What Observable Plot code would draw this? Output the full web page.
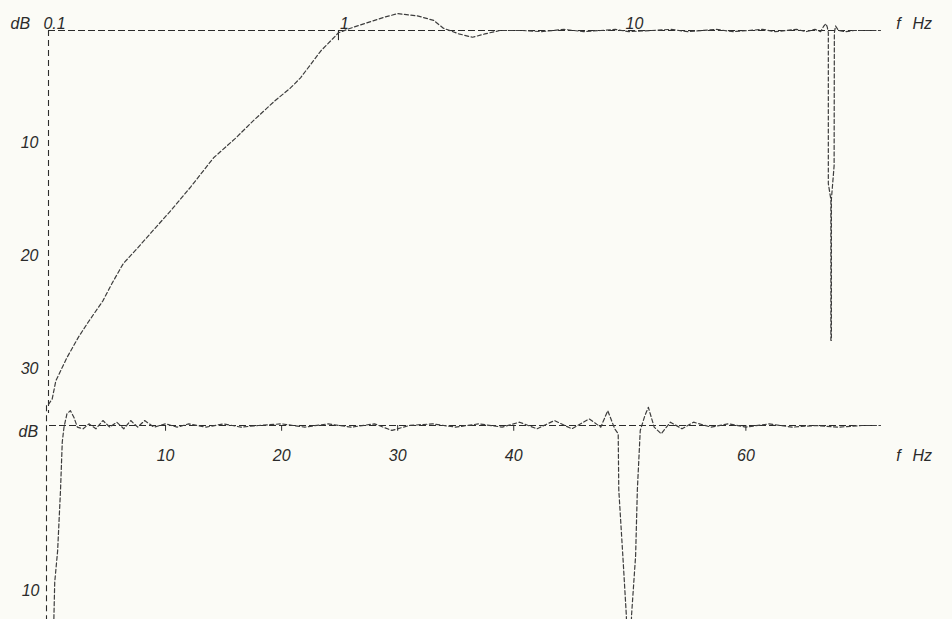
<!DOCTYPE html>
<html><head><meta charset="utf-8">
<script src="https://cdn.jsdelivr.net/npm/d3@7"></script>
<script src="https://cdn.jsdelivr.net/npm/@observablehq/plot@0.6"></script>
<style>
body{margin:0;background:#fbfbf6;}
#wrap{position:relative;width:952px;height:619px;overflow:hidden;background:#fbfbf6;}
#wrap > div{position:absolute;left:0;}
</style></head><body>
<div id="wrap"><div id="top" style="top:0px"></div><div id="bot" style="top:390px"></div></div>
<script>
// ---- Top panel: log frequency sweep (Hz) vs attenuation (dB, downward)
const topF = [0.1,0.103,0.106,0.116,0.127,0.137,0.154,0.166,0.181,0.203,0.225,0.268,0.309,0.371,0.44,0.509,0.6,0.683,0.74,0.87,0.95,1.0,1.1,1.26,1.45,1.6,1.87,2.13,2.3,2.6,2.9,3.2,3.6,4.3,5,6,7,8,9,10,12,14,16,18,20,23,26,29,32,35,38,41,44,46,47.2,48.0,48.5,48.9,48.9,49.9,49.9,50.1,50.1,51.2,51.3,51.8,53,56,60,66,74];
const topDb = [33.2,32.7,31.1,29.0,27.2,25.9,24.0,22.4,20.7,19.3,18.0,15.8,13.9,11.3,9.6,8.0,6.3,5.1,4.2,1.8,0.8,0.2,-0.2,-0.7,-1.2,-1.5,-1.3,-0.9,-0.2,0.3,0.6,0.3,0,0,0.1,-0.1,0.1,0,-0.1,0.1,0,-0.1,0.1,0,-0.1,0.1,0,-0.1,0.1,0,-0.1,0.1,-0.1,0.1,-0.4,-0.6,-0.3,0.2,13.6,15,27.5,27.5,15,12,0.2,-0.4,0,0.1,0,0,0];
const topXTicks = [0.1, 1, 10];
const topXLabels = ["0.1", "1", "10"];
const topYTicks = [10, 20, 30];
const topYLabels = ["10", "20", "30"];

// ---- Bottom panel: linear frequency (Hz) vs attenuation (dB, downward)
const botF = [0.35,0.45,0.7,0.95,1.1,1.25,1.5,1.8,2.1,2.4,2.9,3.4,4.0,4.6,5.2,5.8,6.4,7.0,7.6,8.2,9.0,10,11,12,13.5,15,16.5,18,20,22,24,26,28,29.5,31,33,35,37,39,40.5,42,43.5,45,46.5,47.5,48.1,48.7,49.0,49.05,49.4,49.7,49.8,50.05,50.15,50.5,50.65,50.9,51.3,51.6,52.1,52.7,53.5,54.5,55.5,57,58.5,60,62,64,66,68,70,71.6];
const botDb = [12.5,9.5,7.6,3.9,1.0,0.1,-0.7,-0.9,-0.5,0.1,0.2,-0.1,0.2,-0.3,0.1,-0.2,0.2,-0.3,0.1,-0.3,0.1,-0.1,0.1,-0.1,0.1,-0.1,0.1,0,-0.1,0.1,-0.1,0.1,-0.1,0.3,0,-0.1,0.1,-0.1,0.1,-0.2,0.2,-0.3,0.2,-0.4,0.1,-0.9,0.2,0.5,3.9,7.9,11.5,14,14,11.5,7.9,3.9,0.3,-0.6,-1.1,0.1,0.5,-0.2,0.2,-0.2,0.1,-0.1,0.1,-0.1,0.1,0,0.1,0,0];
const botXTicks = [10, 20, 30, 40, 60];
const botXLabels = ["10", "20", "30", "40", "60"];
const botYTicks = [10];
const botYLabels = ["10"];

const ink = "#2b2b2b";
const curveInk = "#3d3d3d";
const font = "'Liberation Sans', 'DejaVu Sans', sans-serif";
const txt = {fill: ink, fontStyle: "italic", fontSize: 16, fontFamily: font};

const topData = topF.map((f, i) => ({f, db: topDb[i]}));
const botData = botF.map((f, i) => ({f, db: botDb[i]}));

const topPlot = Plot.plot({
  width: 952, height: 420,
  marginLeft: 48, marginRight: 72, marginTop: 30, marginBottom: 7,
  x: {type: "log", domain: [0.1, 74], axis: null},
  y: {domain: [0, 34], reverse: true, axis: null},
  style: {background: "transparent", overflow: "visible", fontFamily: font},
  marks: [
    Plot.ruleY([0], {stroke: ink, strokeWidth: 1.1, strokeDasharray: "7,3"}),
    Plot.ruleX([0.1], {stroke: ink, strokeWidth: 1.1, strokeDasharray: "6,4"}),
    Plot.ruleX([1], {y1: 0, y2: 0.9, stroke: ink, strokeWidth: 1.1}),
    Plot.line(topData, {x: "f", y: "db", stroke: curveInk, strokeWidth: 1.2, strokeDasharray: "4,2.5"}),
    Plot.text(topXTicks, {x: d => d, text: (d, i) => topXLabels[i], frameAnchor: "top", dy: -13, dx: 6, ...txt}),
    Plot.text(topYTicks, {y: d => d, text: (d, i) => topYLabels[i], frameAnchor: "left", dx: -10, textAnchor: "end", ...txt}),
    Plot.text(["dB"], {frameAnchor: "top-left", dx: -38, dy: -13, textAnchor: "start", ...txt}),
    Plot.text(["f"], {frameAnchor: "top-right", dx: 18, dy: -13, textAnchor: "middle", ...txt}),
    Plot.text(["Hz"], {frameAnchor: "top-right", dx: 32, dy: -13, textAnchor: "start", ...txt})
  ]
});
document.getElementById("top").appendChild(topPlot);

const botPlot = Plot.plot({
  width: 952, height: 229,
  marginLeft: 49, marginRight: 72, marginTop: 35, marginBottom: 0,
  x: {domain: [0, 71.6], axis: null},
  y: {domain: [0, 11.76], reverse: true, axis: null},
  style: {background: "transparent", overflow: "visible", fontFamily: font},
  marks: [
    Plot.ruleY([0], {stroke: ink, strokeWidth: 1.1, strokeDasharray: "7,3"}),
    Plot.ruleX([0], {y1: -1.2, y2: 11.76, dx: -3, stroke: ink, strokeWidth: 1.1, strokeDasharray: "6,4"}),
    Plot.ruleX(botXTicks, {y1: 0, y2: 0.35, stroke: ink, strokeWidth: 1}),
    Plot.line(botData, {x: "f", y: "db", stroke: curveInk, strokeWidth: 1.2, strokeDasharray: "4,2.5"}),
    Plot.text(botXTicks, {x: d => d, text: (d, i) => botXLabels[i], frameAnchor: "top", dy: 24, ...txt}),
    Plot.text(botYTicks, {y: d => d, text: (d, i) => botYLabels[i], frameAnchor: "left", dx: -10, textAnchor: "end", ...txt}),
    Plot.text(["dB"], {frameAnchor: "top-left", dx: -31, dy: 0, textAnchor: "start", ...txt}),
    Plot.text(["f"], {frameAnchor: "top-right", dx: 18, dy: 24, textAnchor: "middle", ...txt}),
    Plot.text(["Hz"], {frameAnchor: "top-right", dx: 32, dy: 24, textAnchor: "start", ...txt})
  ]
});
document.getElementById("bot").appendChild(botPlot);
</script>
</body></html>
